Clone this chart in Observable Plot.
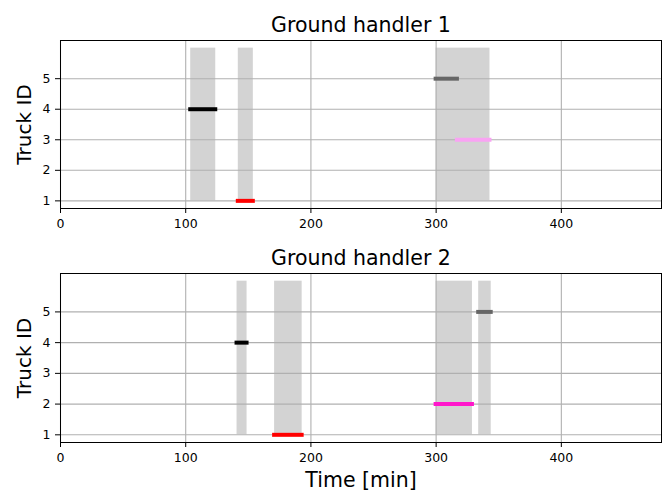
<!DOCTYPE html>
<html>
<head>
<meta charset="utf-8">
<script src="https://cdn.jsdelivr.net/npm/d3@7"></script>
<script src="https://cdn.jsdelivr.net/npm/@observablehq/plot@0.6"></script>
<style>
  html, body { margin: 0; padding: 0; background: white; }
  #chart { position: relative; width: 668px; height: 492px; font-family: "DejaVu Sans", sans-serif; }
  #chart svg { position: absolute; left: 0; }
</style>
</head>
<body>
<div id="chart"></div>
<script>
// ---- data ----
const xTicks = [0, 100, 200, 300, 400];
const yTicks = [1, 2, 3, 4, 5];
const panelTitles = ["Ground handler 1", "Ground handler 2"];
const xLabel = "Time [min]";
const yLabel = "Truck ID";

// Handler 1: gray slots
const h1SlotStart = [104, 142, 300];
const h1SlotEnd   = [124, 154, 343];
// Handler 1: truck tasks
const h1Truck = [4, 1, 5, 3];
const h1Start = [104, 142, 300, 317];
const h1End   = [124, 154, 317, 343];
const h1Color = ["#000000", "#ff0000", "#666666", "#f9a3f3"];

// Handler 2: gray slots
const h2SlotStart = [141, 171, 300, 334];
const h2SlotEnd   = [149, 193, 329, 344];
// Handler 2: truck tasks
const h2Truck = [4, 1, 2, 5];
const h2Start = [141, 171, 300, 334];
const h2End   = [149, 193, 329, 344];
const h2Color = ["#000000", "#ff0000", "#ff17cb", "#666666"];

const slotBottom = 1, slotTop = 6;

function makePanel({title, slotStart, slotEnd, truck, start, end, color, marginTop, marginBottom, showXLabel}) {
  const slots = slotStart.map((s, i) => ({x1: s, x2: slotEnd[i], y1: slotBottom, y2: slotTop}));
  const tasks = truck.map((t, i) => ({truck: t, start: start[i], end: end[i], color: color[i]}));
  const marks = [
    Plot.rect(slots, {x1: "x1", x2: "x2", y1: "y1", y2: "y2", fill: "#d3d3d3"}),
    Plot.gridX(xTicks, {stroke: "#b0b0b0", strokeOpacity: 1, strokeWidth: 1.1}),
    Plot.gridY(yTicks, {stroke: "#b0b0b0", strokeOpacity: 1, strokeWidth: 1.1}),
    Plot.ruleY(tasks, {y: "truck", x1: "start", x2: "end", stroke: "color", strokeWidth: 4, strokeLinecap: "square"}),
    Plot.frame({stroke: "black", strokeWidth: 1}),
    Plot.axisX({ticks: xTicks, tickSize: 5, tickPadding: 6, fontSize: 12.5, label: null, tickFormat: d => String(d)}),
    Plot.axisY({ticks: yTicks, tickSize: 5, tickPadding: 5, fontSize: 12.5, label: null, tickFormat: d => String(d)}),
    Plot.text([title], {text: d => d, frameAnchor: "top", textAnchor: "middle", lineAnchor: "middle", dy: -14.6, fontSize: 20.5, fill: "black"}),
    Plot.text([yLabel], {text: d => d, frameAnchor: "left", textAnchor: "middle", lineAnchor: "middle", dx: -35.5, rotate: -90, fontSize: 20, fill: "black"})
  ];
  if (showXLabel) {
    marks.push(Plot.text([xLabel], {text: d => d, frameAnchor: "bottom", textAnchor: "middle", lineAnchor: "middle", dy: 38.4, fontSize: 20.5, fill: "black"}));
  }
  return Plot.plot({
    width: 668,
    height: 246,
    marginLeft: 60,
    marginRight: 7,
    marginTop,
    marginBottom,
    x: {domain: [0, 480]},
    y: {domain: [0.75, 6.25]},
    color: {type: "identity"},
    style: {fontFamily: "DejaVu Sans", fontSize: "12.5px", color: "black", background: "white", overflow: "visible"},
    marks
  });
}

const chart = document.getElementById("chart");
const p1 = makePanel({title: panelTitles[0], slotStart: h1SlotStart, slotEnd: h1SlotEnd, truck: h1Truck, start: h1Start, end: h1End, color: h1Color, marginTop: 40, marginBottom: 38, showXLabel: false});
p1.style.top = "0px";
const p2 = makePanel({title: panelTitles[1], slotStart: h2SlotStart, slotEnd: h2SlotEnd, truck: h2Truck, start: h2Start, end: h2End, color: h2Color, marginTop: 27, marginBottom: 50, showXLabel: true});
p2.style.top = "246px";
chart.appendChild(p1);
chart.appendChild(p2);
</script>
</body>
</html>
